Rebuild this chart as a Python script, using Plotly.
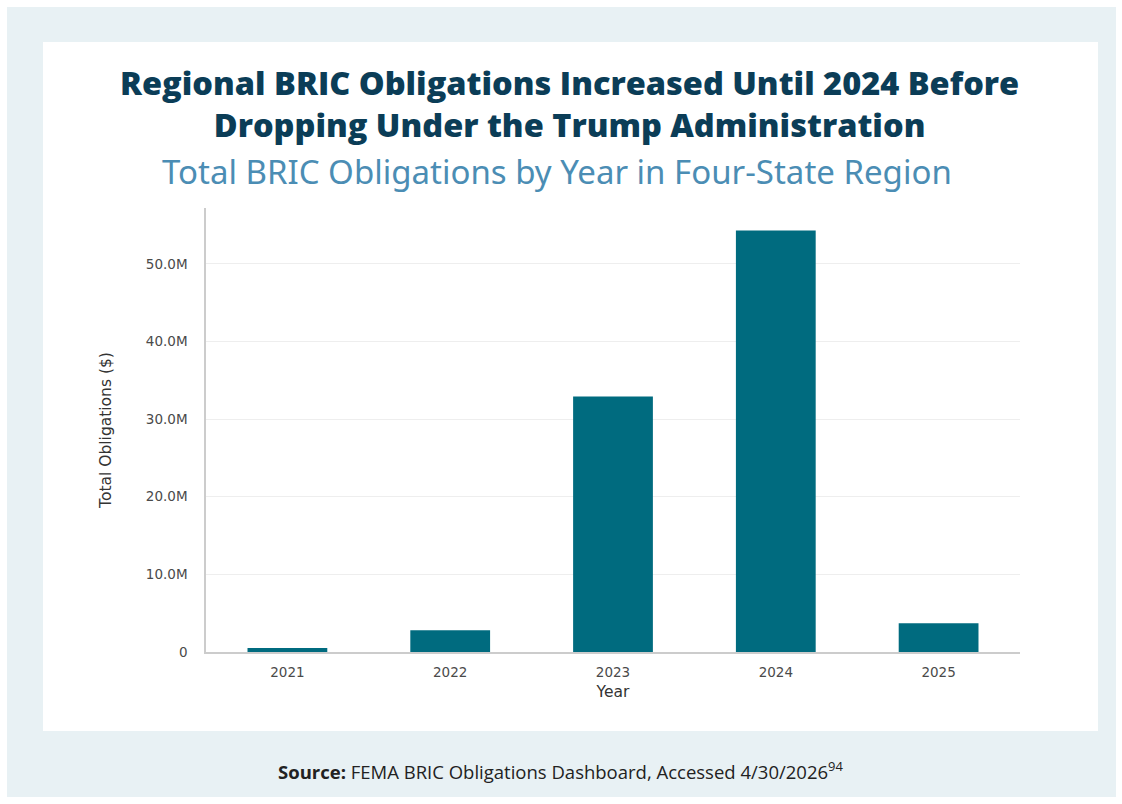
import plotly.graph_objects as go

years = ["2021", "2022", "2023", "2024", "2025"]
obligations = [0.5e6, 2.8e6, 32.9e6, 54.3e6, 3.7e6]
ytick_vals = [0, 10e6, 20e6, 30e6, 40e6, 50e6]
ytick_text = ["0", "10.0M", "20.0M", "30.0M", "40.0M", "50.0M"]
title_lines = ["Regional BRIC Obligations Increased Until 2024 Before",
               "Dropping Under the Trump Administration"]

W, H = 1122, 804
L, R, T, B = 206, 1020, 208, 652


def xp(px):
    return (px - L) / (R - L)


def yp(py):
    return (B - py) / (B - T)


fig = go.Figure(
    go.Bar(
        x=years,
        y=obligations,
        marker=dict(color="#006b7f", line=dict(width=0)),
        width=0.49,
    )
)

shapes = [
    dict(type="rect", xref="paper", yref="paper", x0=xp(7), x1=xp(1116), y0=yp(7), y1=yp(797),
         fillcolor="#e8f1f4", line=dict(width=0), layer="below"),
    dict(type="rect", xref="paper", yref="paper", x0=xp(43), x1=xp(1098), y0=yp(42), y1=yp(731),
         fillcolor="#ffffff", line=dict(width=0), layer="below"),
]

annotations = [
    dict(text="<br>".join(title_lines), xref="paper", yref="paper", x=xp(569), y=yp(103),
         xanchor="center", yanchor="middle", showarrow=False, align="center",
         font=dict(family="Open Sans", size=32.5, weight=800, color="#0b3d57")),
    dict(text="Total BRIC Obligations by Year in Four-State Region",
         xref="paper", yref="paper", x=xp(557), y=yp(172), xanchor="center", yanchor="middle",
         showarrow=False, font=dict(family="Noto Sans", size=33, color="#4b8db4")),
    dict(text="<b>Source:</b> FEMA BRIC Obligations Dashboard, Accessed 4/30/2026<sup>94</sup>",
         xref="paper", yref="paper", x=xp(560), y=yp(770), xanchor="center", yanchor="middle",
         showarrow=False, font=dict(family="Open Sans", size=18.5, color="#222222")),
]

fig.update_layout(
    width=W,
    height=H,
    margin=dict(l=L, r=W - R, t=T, b=H - B, pad=0),
    paper_bgcolor="#ffffff",
    plot_bgcolor="#ffffff",
    showlegend=False,
    shapes=shapes,
    annotations=annotations,
    bargap=0.51,
    xaxis=dict(
        type="category",
        showline=True, linecolor="#cccccc", linewidth=1.5,
        showgrid=False, ticks="",
        ticklabelstandoff=7,
        tickfont=dict(family="DejaVu Sans", size=13.5, color="#4a4a4a"),
        title=dict(text="Year", font=dict(family="DejaVu Sans", size=15.5, color="#333333"), standoff=7),
    ),
    yaxis=dict(
        range=[0, 57.2e6],
        tickvals=ytick_vals, ticktext=ytick_text,
        showline=True, linecolor="#cccccc", linewidth=1.5,
        showgrid=True, gridcolor="#eeeeee", gridwidth=1,
        zeroline=False, ticks="",
        ticklabelstandoff=14,
        tickfont=dict(family="DejaVu Sans", size=13.5, color="#4a4a4a"),
        title=dict(text="Total Obligations ($)", font=dict(family="DejaVu Sans", size=15.5, color="#333333"), standoff=30),
    ),
)

fig.write_html("out.html")
